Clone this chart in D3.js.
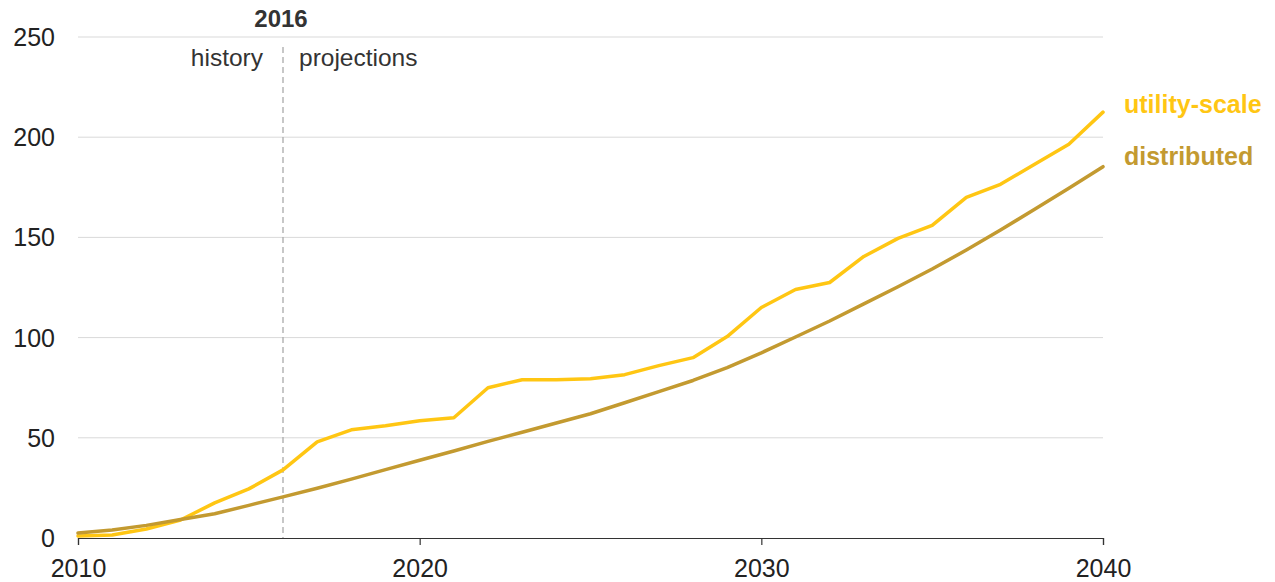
<!DOCTYPE html>
<html><head><meta charset="utf-8">
<script src="https://cdn.jsdelivr.net/npm/d3@7"></script>
<style>
body{margin:0;background:#fff;}
text{font-family:"Liberation Sans",Arial,sans-serif;}
</style></head>
<body><svg id="c" width="1275" height="582"></svg>
<script>
const years = d3.range(2010, 2041);
const utilityScale = [1,1.5,4.5,9,17.5,24.5,34,48,54,56,58.5,60,75,79,79,79.5,81.5,86,90,100.5,115,124,127.5,140.5,149.5,156,170,176.5,186.5,196.5,212.5];
const distributed = [2.5,4,6.3,9.2,12.1,16.3,20.5,24.8,29.4,34.1,38.8,43.4,48.2,52.8,57.4,62,67.5,73,78.6,85,92.4,100.3,108.3,116.8,125.4,134.2,143.7,153.7,164,174.5,185.3];
const yTicks = [0,50,100,150,200,250];
const xTicks = [2010,2020,2030,2040];
const seriesNames = ["utility-scale","distributed"];
const colors = ["#FFC613","#C39A30"];

const svg = d3.select("#c");
const x = d3.scaleLinear().domain([2010,2040]).range([78,1103]);
const y = d3.scaleLinear().domain([0,250]).range([538,37]);

// grid
svg.append("g").selectAll("line").data(yTicks.filter(d=>d>0)).join("line")
  .attr("x1",78).attr("x2",1103).attr("y1",d=>y(d)).attr("y2",d=>y(d))
  .attr("stroke","#d9d9d9").attr("stroke-width",1);

// y labels
svg.append("g").selectAll("text").data(yTicks).join("text")
  .attr("x",55).attr("y",d=>y(d)+9).attr("text-anchor","end")
  .attr("font-size",25).attr("fill","#222").text(d=>d);

// x axis
const xa = svg.append("g").attr("transform","translate(0,538)")
  .call(d3.axisBottom(x).tickValues(xTicks).tickFormat(d3.format("d")).tickSize(7).tickPadding(0));
xa.select(".domain").attr("stroke","#333").attr("stroke-width",1.2);
xa.selectAll(".tick line").attr("stroke","#333").attr("stroke-width",1.2);
xa.selectAll(".tick text").attr("font-size",25).attr("fill","#222")
  .attr("font-family","Liberation Sans, Arial, sans-serif").attr("dy",null).attr("y",39);

// divider
svg.append("line").attr("x1",x(2016)).attr("x2",x(2016)).attr("y1",47).attr("y2",538)
  .attr("stroke","#aaa").attr("stroke-width",1.3).attr("stroke-dasharray","6,4");
svg.append("text").attr("x",x(2016)-2).attr("y",27).attr("text-anchor","middle")
  .attr("font-size",24).attr("font-weight","bold").attr("fill","#333").text("2016");
svg.append("text").attr("x",x(2016)-20).attr("y",66).attr("text-anchor","end")
  .attr("font-size",24.5).attr("fill","#333").text("history");
svg.append("text").attr("x",x(2016)+16).attr("y",66).attr("text-anchor","start")
  .attr("font-size",24.5).attr("fill","#333").text("projections");

// lines
const line = d3.line().x((d,i)=>x(years[i])).y(d=>y(d));
[utilityScale, distributed].forEach((s,k)=>{
  svg.append("path").datum(s).attr("d",line).attr("fill","none")
    .attr("stroke",colors[k]).attr("stroke-width",3.5)
    .attr("stroke-linejoin","round").attr("stroke-linecap","round");
});
// labels
svg.append("text").attr("x",1124).attr("y",113).attr("font-size",25).attr("font-weight","bold")
  .attr("fill",colors[0]).text(seriesNames[0]);
svg.append("text").attr("x",1124).attr("y",165).attr("font-size",25).attr("font-weight","bold")
  .attr("fill",colors[1]).text(seriesNames[1]);
</script></body></html>
